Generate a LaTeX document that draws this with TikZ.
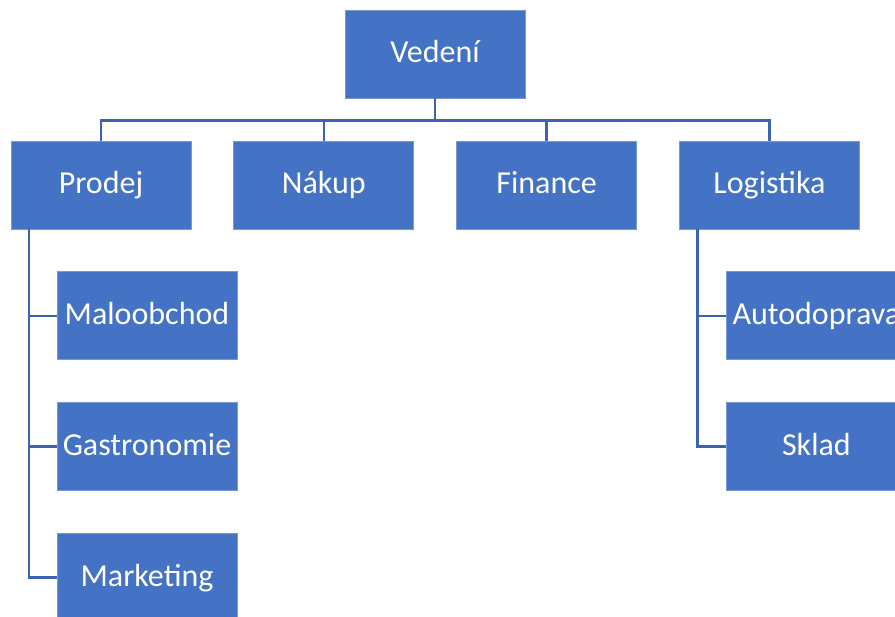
\documentclass[tikz,border=0pt]{standalone}
\usepackage{fontspec}
\setmainfont{Carlito}
\usepackage{tikz}
\usetikzlibrary{positioning}
\definecolor{boxblue}{RGB}{68,114,196}
\definecolor{edgeblue}{RGB}{120,153,214}
\definecolor{linkblue}{RGB}{60,99,176}

\begin{document}
\begin{tikzpicture}[
    x = 1pt, y = 1pt,
    node distance = 42pt,
    unit/.style={rectangle, draw=edgeblue, line width=0.8pt, fill=boxblue,
        text=white, minimum width=180pt, minimum height=88pt, inner sep=0pt,
        text height=24pt, text depth=6pt,
        font=\fontsize{32}{38}\selectfont},
    link/.style={draw=linkblue, line width=2.3pt}
]
\useasboundingbox (0,0) rectangle (895,-617);

% Top
\node[unit] (vedeni) at (435,-54) {Vedení};

% Departments
\node[unit] (prodej) at (101,-185) {Prodej};
\node[unit] (nakup) [right=of prodej] {Nákup};
\node[unit] (finance) [right=of nakup] {Finance};
\node[unit] (logistika) [right=of finance] {Logistika};

% Sub-units
\node[unit] (maloobchod) [below=of prodej, xshift=46pt] {Maloobchod};
\node[unit] (gastro) [below=of maloobchod] {Gastronomie};
\node[unit] (marketing) [below=of gastro] {Marketing};
\node[unit] (autodoprava) [below=of logistika, xshift=47pt] {Autodoprava};
\node[unit] (sklad) [below=of autodoprava] {Sklad};

% Connectors from Vedení
\draw[link] (vedeni.south) -- ++(0,-22) coordinate (bus);
\foreach \n in {prodej,nakup,finance,logistika}
    \draw[link] (bus) -| (\n.north);

% Connectors from Prodej
\foreach \n in {maloobchod,gastro,marketing}
    \draw[link] ([xshift=-72pt]prodej.south) |- (\n.west);

% Connectors from Logistika
\foreach \n in {autodoprava,sklad}
    \draw[link] ([xshift=-72pt]logistika.south) |- (\n.west);

\end{tikzpicture}
\end{document}
